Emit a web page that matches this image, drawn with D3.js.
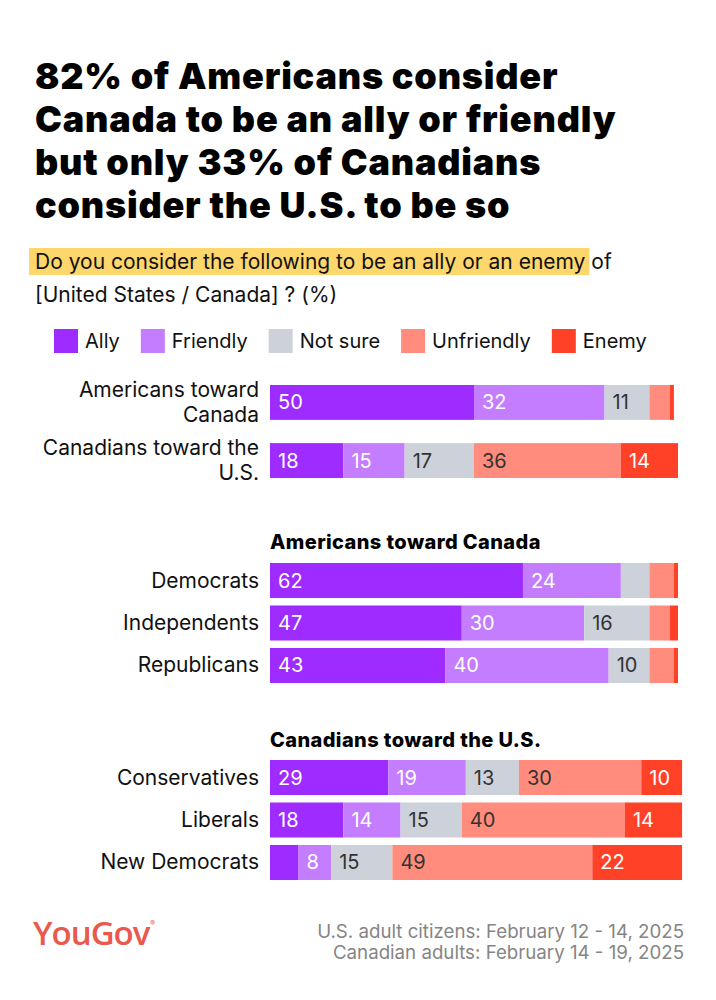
<!DOCTYPE html>
<html><head><meta charset="utf-8">
<script src="https://cdn.jsdelivr.net/npm/d3@7"></script>
<style>body{margin:0;background:#fff} svg{display:block}</style>
</head><body><svg id="c" width="716" height="1000"></svg>
<script>
// ---- data ----
const titleLines = ["82% of Americans consider", "Canada to be an ally or friendly", "but only 33% of Canadians", "consider the U.S. to be so"];
const subtitleHighlight = "Do you consider the following to be an ally or an enemy";
const subtitleRest = " of";
const subtitleLine2 = "[United States / Canada] ? (%)";
const categories = ["Ally", "Friendly", "Not sure", "Unfriendly", "Enemy"];
const colors = ["#9E2BFF", "#C47DFF", "#CCD1DA", "#FF8C7C", "#FF4128"];
const labelColors = ["#fff", "#fff", "#333", "#333", "#fff"];

const overviewRows = ["Americans toward Canada", "Canadians toward the U.S."];
const overviewLabelLines = [["Americans toward", "Canada"], ["Canadians toward the", "U.S."]];
const overviewValues = [[50, 32, 11, 5, 1], [18, 15, 17, 36, 14]];

const usTitle = "Americans toward Canada";
const usRows = ["Democrats", "Independents", "Republicans"];
const usValues = [[62, 24, 7, 6, 1], [47, 30, 16, 5, 2], [43, 40, 10, 6, 1]];

const caTitle = "Canadians toward the U.S.";
const caRows = ["Conservatives", "Liberals", "New Democrats"];
const caValues = [[29, 19, 13, 30, 10], [18, 14, 15, 40, 14], [7, 8, 15, 49, 22]];

const footerLines = ["U.S. adult citizens: February 12 - 14, 2025", "Canadian adults: February 14 - 19, 2025"];
const brand = "YouGov";

// ---- drawing ----
const svg = d3.select("#c");
svg.append("rect").attr("width", 716).attr("height", 1000).attr("fill", "#fff");
const FONT = "Inter, 'Noto Sans', sans-serif";

// title
svg.append("g").selectAll("text").data(titleLines).join("text")
  .attr("x", 35).attr("y", (d, i) => 89 + i * 43)
  .attr("font-family", FONT).attr("font-weight", 900).attr("font-size", 36)
  .attr("letter-spacing", 0.8).attr("fill", "#000").text(d => d);

// subtitle
const sub = svg.append("g").attr("font-family", FONT).attr("font-size", 21).attr("fill", "#111");
const hlRect = sub.append("rect").attr("fill", "#FDD66C");
const t1 = sub.append("text").attr("x", 35).attr("y", 269);
const hlSpan = t1.append("tspan").text(subtitleHighlight);
t1.append("tspan").text(subtitleRest);
const hlW = hlSpan.node().getComputedTextLength();
hlRect.attr("x", 29).attr("y", 248).attr("width", hlW + 10).attr("height", 27);
sub.append("text").attr("x", 35).attr("y", 302).text(subtitleLine2);

// legend
const leg = svg.append("g").attr("font-family", FONT).attr("font-size", 20).attr("fill", "#111");
let lx = 54;
categories.forEach((c, i) => {
  leg.append("rect").attr("x", lx).attr("y", 329).attr("width", 24).attr("height", 24).attr("fill", colors[i]);
  const t = leg.append("text").attr("x", lx + 31).attr("y", 348).text(c);
  lx += 31 + t.node().getComputedTextLength() + 21;
});

const x = d3.scaleLinear().domain([0, 100]).range([270, 678]);

function drawGroup(rows, values, y0, y1, padding, labelLines) {
  const y = d3.scaleBand().domain(rows).range([y0, y1]).paddingInner(padding).paddingOuter(0);
  const g = svg.append("g");
  rows.forEach((r, ri) => {
    const vals = values[ri];
    const stack = [];
    let acc = 0;
    vals.forEach((v, ci) => { stack.push({v, ci, s: acc, e: acc + v}); acc += v; });
    const row = g.append("g");
    row.selectAll("rect").data(stack).join("rect")
      .attr("x", d => x(d.s)).attr("width", d => x(d.e) - x(d.s))
      .attr("y", y(r)).attr("height", y.bandwidth())
      .attr("fill", d => colors[d.ci]);
    row.selectAll("text.v").data(stack.filter(d => d.v >= 8)).join("text")
      .attr("class", "v")
      .attr("x", d => x(d.s) + 8).attr("y", y(r) + y.bandwidth() / 2 + 7)
      .attr("font-family", FONT).attr("font-size", 20)
      .attr("fill", d => labelColors[d.ci]).text(d => d.v);
    const lines = labelLines ? labelLines[ri] : [r];
    const cy = y(r) + y.bandwidth() / 2;
    const lab = row.append("text").attr("text-anchor", "end")
      .attr("font-family", FONT).attr("font-size", 21).attr("fill", "#111");
    lines.forEach((ln, li) => {
      lab.append("tspan").attr("x", 259)
        .attr("y", cy + 7 + (li - (lines.length - 1) / 2) * 25).text(ln);
    });
  });
}

drawGroup(overviewRows, overviewValues, 385, 478, 0.4, overviewLabelLines);

svg.append("text").attr("x", 270).attr("y", 549).attr("font-family", FONT)
  .attr("font-weight", 800).attr("font-size", 20).attr("letter-spacing", 0.4).attr("fill", "#000").text(usTitle);
drawGroup(usRows, usValues, 563, 683, 0.176, null);

svg.append("text").attr("x", 270).attr("y", 747).attr("font-family", FONT)
  .attr("font-weight", 800).attr("font-size", 20).attr("letter-spacing", 0.4).attr("fill", "#000").text(caTitle);
drawGroup(caRows, caValues, 760, 880, 0.176, null);

// footer
const logo = svg.append("text").attr("x", 33).attr("y", 945).attr("font-family", "'Open Sans', sans-serif")
  .attr("font-weight", 600).attr("font-size", 33).attr("letter-spacing", -1).attr("fill", "#E9594D").text(brand);
const lw = logo.node().getComputedTextLength();
svg.append("text").attr("x", 33 + lw + 1).attr("y", 926).attr("font-family", FONT).attr("font-size", 7)
  .attr("fill", "#E9594D").text("®");
svg.append("g").selectAll("text").data(footerLines).join("text")
  .attr("x", 684).attr("y", (d, i) => 938 + i * 21).attr("text-anchor", "end")
  .attr("font-family", FONT).attr("font-size", 18.7).attr("fill", "#858585").text(d => d);
</script></body></html>
